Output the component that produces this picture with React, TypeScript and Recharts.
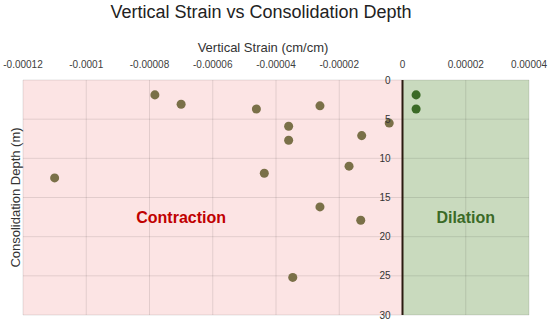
import { ScatterChart, Scatter, XAxis, YAxis, ReferenceArea, ReferenceLine, ReferenceDot } from "recharts";

const xTicks = [-0.00012, -0.0001, -0.00008, -0.00006, -0.00004, -0.00002, 0, 0.00002, 0.00004];
const yTicks = [0, 5, 10, 15, 20, 25, 30];

const contractionStrain = [
  -0.0000783, -0.00007, -0.0000462, -0.0000261, -0.000036, -0.000036, -0.0000129,
  -0.0000042, -0.0000169, -0.0000437, -0.00011, -0.0000261, -0.0000132, -0.0000347,
];
const contractionDepth = [1.9, 3.1, 3.7, 3.3, 5.9, 7.7, 7.1, 5.5, 11.0, 11.9, 12.5, 16.2, 17.9, 25.2];

const dilationStrain = [0.0000043, 0.0000043];
const dilationDepth = [1.9, 3.7];

const zones = [
  { name: "Contraction", x: -0.00007, y: 17.5, color: "#c00000" },
  { name: "Dilation", x: 0.00002, y: 17.5, color: "#3b6a27" },
];

const font = "'Liberation Sans', Arial, sans-serif";

export default function App() {
  const contraction = contractionStrain.map((x, i) => ({ x, y: contractionDepth[i] }));
  const dilation = dilationStrain.map((x, i) => ({ x, y: dilationDepth[i] }));

  return (
    <div style={{ position: "absolute", left: 0, top: 0, width: 550, height: 323, background: "#fff", fontFamily: font }}>
      <div style={{ position: "absolute", left: 0, top: 2, width: 522, textAlign: "center", fontSize: 18, color: "#222" }}>
        Vertical Strain vs Consolidation Depth
      </div>
      <ScatterChart width={550} height={323} margin={{ top: 40, right: 21, bottom: 8, left: 0 }}>
        <XAxis
          dataKey="x"
          type="number"
          orientation="top"
          domain={[-0.00012, 0.00004]}
          ticks={xTicks}
          interval={0}
          height={40}
          axisLine={false}
          tickLine={false}
          tickMargin={6}
          tick={{ fontSize: 10, fill: "#404040", fontFamily: font }}
          label={{ value: "Vertical Strain (cm/cm)", position: "insideTop", offset: 3, dx: -13, fontSize: 13, fill: "#333", fontFamily: font }}
        />
        <YAxis
          dataKey="y"
          type="number"
          domain={[0, 30]}
          reversed
          ticks={yTicks}
          width={23}
          tick={false}
          axisLine={false}
          tickLine={false}
          label={{ value: "Consolidation Depth (m)", angle: -90, position: "center", dx: 4, fontSize: 13, fill: "#333", fontFamily: font }}
        />
        <ReferenceArea x1={-0.00012} x2={0} y1={0} y2={30} fill="#fce4e4" fillOpacity={1} stroke="none" />
        <ReferenceArea x1={0} x2={0.00004} y1={0} y2={30} fill="#c9dabe" fillOpacity={1} stroke="none" />
        {xTicks.filter((t) => t !== 0).map((t) => (
          <ReferenceLine key={"gx" + t} x={t} stroke="#000" strokeOpacity={0.1} />
        ))}
        {yTicks.map((t) => (
          <ReferenceLine key={"gy" + t} y={t} stroke="#000" strokeOpacity={0.1} />
        ))}
        <ReferenceLine x={0} stroke="#2a1a10" strokeWidth={2} />
        {yTicks.map((t) => (
          <ReferenceDot
            key={"yl" + t}
            x={0}
            y={t}
            r={0}
            stroke="none"
            fill="none"
            ifOverflow="visible"
            label={{ value: String(t), position: "left", offset: 12, fontSize: 10, fill: "#333", fontFamily: font }}
          />
        ))}
        {zones.map((z) => (
          <ReferenceDot
            key={z.name}
            x={z.x}
            y={z.y}
            r={0}
            stroke="none"
            fill="none"
            label={{ value: z.name, position: "center", fontSize: 16, fontWeight: "bold", fill: z.color, fontFamily: font }}
          />
        ))}
        <Scatter data={contraction} fill="#7a7048" isAnimationActive={false} />
        <Scatter data={dilation} fill="#3b6a27" isAnimationActive={false} />
      </ScatterChart>
    </div>
  );
}
